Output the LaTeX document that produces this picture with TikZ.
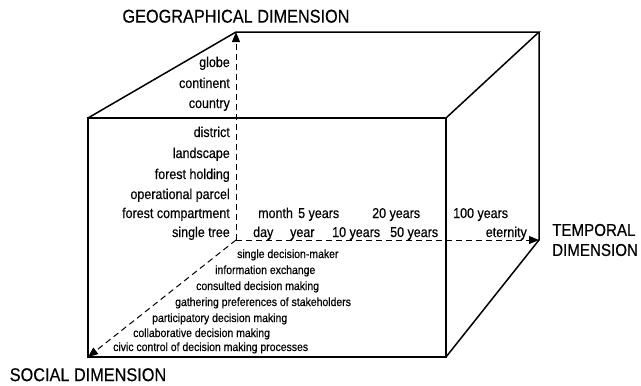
\documentclass[tikz,border=0pt]{standalone}
\usepackage{fontspec}
\setmainfont{Liberation Sans}[FakeStretch=0.88, FakeBold=0.4]
\usetikzlibrary{positioning}
\usetikzlibrary{arrows.meta}

\tikzset{
  edge/.style={line width=1.5pt, line join=miter},
  axis/.style={line width=1pt, dash pattern=on 6pt off 4pt, -{Triangle[length=10pt,width=8pt]}},
  geolabel/.style={anchor=base east, inner sep=0pt, font=\fontsize{14.2}{16}\selectfont},
  timelabel/.style={anchor=base west, inner sep=0pt, font=\fontsize{14.2}{16}\selectfont},
  soclabel/.style={anchor=base west, inner sep=0pt, font=\fontsize{11.9}{13}\selectfont},
  dimlabel/.style={inner sep=0pt, font=\fontsize{18.5}{20}\selectfont}
}

\begin{document}
\begin{tikzpicture}[x=1pt, y=-1pt]
    \useasboundingbox (0,0) rectangle (641,386);
    % corners of the box
    \coordinate (ftl) at (88,118);
    \coordinate (ftr) at (446,118);
    \coordinate (fbr) at (446,357);
    \coordinate (fbl) at (88,357);
    \coordinate (btl) at (236,32);
    \coordinate (btr) at (539,32);
    \coordinate (bbr) at (539,240);
    \coordinate (bbl) at (236,240);

    \draw[edge] (ftl) -- (ftr) -- (fbr) -- (fbl) -- cycle;   %front face
    \draw[edge] (ftl) -- (btl) -- (btr) -- (ftr);
    \draw[edge] (btr) -- (bbr) -- (fbr);

    % the three axes
    \draw[axis] (bbl) -- (btl);
    \draw[axis] (bbl) -- (bbr);
    \draw[axis] (bbl) -- (fbl);

    \node[dimlabel, above=9pt of btl] (geodim) {GEOGRAPHICAL DIMENSION};
    \node[dimlabel, below=11pt of fbl] (socdim) {SOCIAL DIMENSION};
    \node[dimlabel, right=13pt of bbr, align=left, font=\fontsize{17.2}{20}\selectfont] (timedim) {TEMPORAL\\DIMENSION};

    % geographical scale
    \node[geolabel] (globe) at (230,67) {globe};
    \node[geolabel] (continent) at (230,88) {continent};
    \node[geolabel] (country) at (230,108) {country};
    \node[geolabel] (district) at (230,137) {district};
    \node[geolabel] (landscape) at (230,158) {landscape};
    \node[geolabel] (holding) at (230,179) {forest holding};
    \node[geolabel] (parcel) at (230,199) {operational parcel};
    \node[geolabel] (compartment) at (230,218) {forest compartment};
    \node[geolabel] (tree) at (230,237) {single tree};

    % temporal scale
    \node[timelabel] (month) at (258,218) {month};
    \node[timelabel] (years5) at (298,218) {5 years};
    \node[timelabel] (years20) at (372,218) {20 years};
    \node[timelabel] (years100) at (453,218) {100 years};
    \node[timelabel] (day) at (253,237) {day};
    \node[timelabel] (year) at (290,237) {year};
    \node[timelabel] (years10) at (332,237) {10 years};
    \node[timelabel] (years50) at (390,237) {50 years};
    \node[timelabel, anchor=base east] (eternity) at (527,237) {eternity};

    % social scale
    \node[soclabel] (single) at (237,258) {single decision-maker};
    \node[soclabel] (exchange) at (215,274) {information exchange};
    \node[soclabel] (consulted) at (196,290) {consulted decision making};
    \node[soclabel] (gathering) at (175,306) {gathering preferences of stakeholders};
    \node[soclabel] (participatory) at (152,322) {participatory decision making};
    \node[soclabel] (collaborative) at (133,337) {collaborative decision making};
    \node[soclabel] (civic) at (113,351) {civic control of decision making processes};
\end{tikzpicture}
\end{document}
